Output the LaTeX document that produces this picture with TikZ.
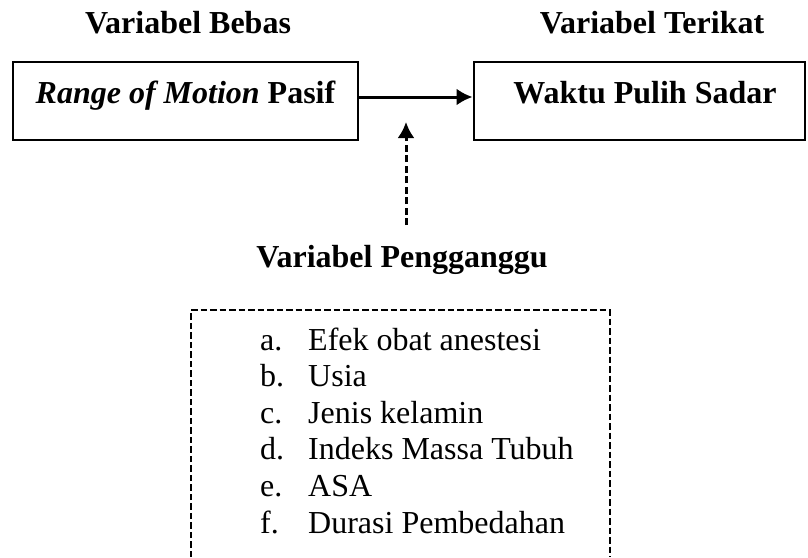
\documentclass[tikz,border=0pt]{standalone}
\usepackage{fontspec}
\setmainfont{Liberation Serif}
\usetikzlibrary{arrows.meta}
\tikzset{
  big/.style={font=\fontsize{32}{38}\selectfont, inner sep=0pt},
  ttl/.style={big, font=\fontsize{32}{38}\selectfont\bfseries, anchor=base},
  boxframe/.style={draw, line width=2.9pt, inner sep=0pt},
  itemlbl/.style={big, anchor=base west},
  conn/.style={line width=3pt, -{Latex[length=16pt,width=17pt]}},
  dashconn/.style={conn, dash pattern=on 7pt off 3.5pt},
  dashframe/.style={line width=2.9pt, dash pattern=on 6.5pt off 3pt}
}
\begin{document}
\begin{tikzpicture}[x=1pt,y=-1pt]
\useasboundingbox (0,0) rectangle (808,557);
% titles
\node[ttl] (tbebas) at (188,33) {Variabel Bebas};
\node[ttl] (tterikat) at (652,33) {Variabel Terikat};
% boxes
\node[boxframe, minimum width=345pt, minimum height=78pt] (lbox) at (185.5,101) {};
\node[ttl] (ltext) at (185.5,103) {\textit{Range of Motion} Pasif};
\node[boxframe, minimum width=331pt, minimum height=78pt] (rbox) at (639.5,101) {};
\node[ttl] (rtext) at (645,103) {Waktu Pulih Sadar};
% main arrow
\coordinate (ay) at (0,97);
\draw[conn] (lbox.east |- ay) -- (rbox.west |- ay);
% dashed arrow
\coordinate (dbot) at (406,225);
\coordinate (dtop) at (406,122);
\draw[dashconn] (dbot) -- (dtop);
% confounder title
\node[ttl] (tpeng) at (402,267) {Variabel Pengganggu};
% dashed box (bottom edge outside the picture)
\coordinate (bl) at (191,557);
\coordinate (tl) at (191,310);
\coordinate (tr) at (610,310);
\coordinate (br) at (610,557);
\draw[dashframe] (bl) -- (tl) -- (tr) -- (br);
% list
\node[itemlbl] (la) at (260,350) {a.};
\node[itemlbl] (ta) at (308,350) {Efek obat anestesi};
\node[itemlbl] (lb) at (260,386.6) {b.};
\node[itemlbl] (tb) at (308,386.6) {Usia};
\node[itemlbl] (lc) at (260,423.2) {c.};
\node[itemlbl] (tc) at (308,423.2) {Jenis kelamin};
\node[itemlbl] (ld) at (260,459.8) {d.};
\node[itemlbl] (td) at (308,459.8) {Indeks Massa Tubuh};
\node[itemlbl] (le) at (260,496.4) {e.};
\node[itemlbl] (te) at (308,496.4) {ASA};
\node[itemlbl] (lf) at (260,533) {f.};
\node[itemlbl] (tf) at (308,533) {Durasi Pembedahan};
\end{tikzpicture}
\end{document}
